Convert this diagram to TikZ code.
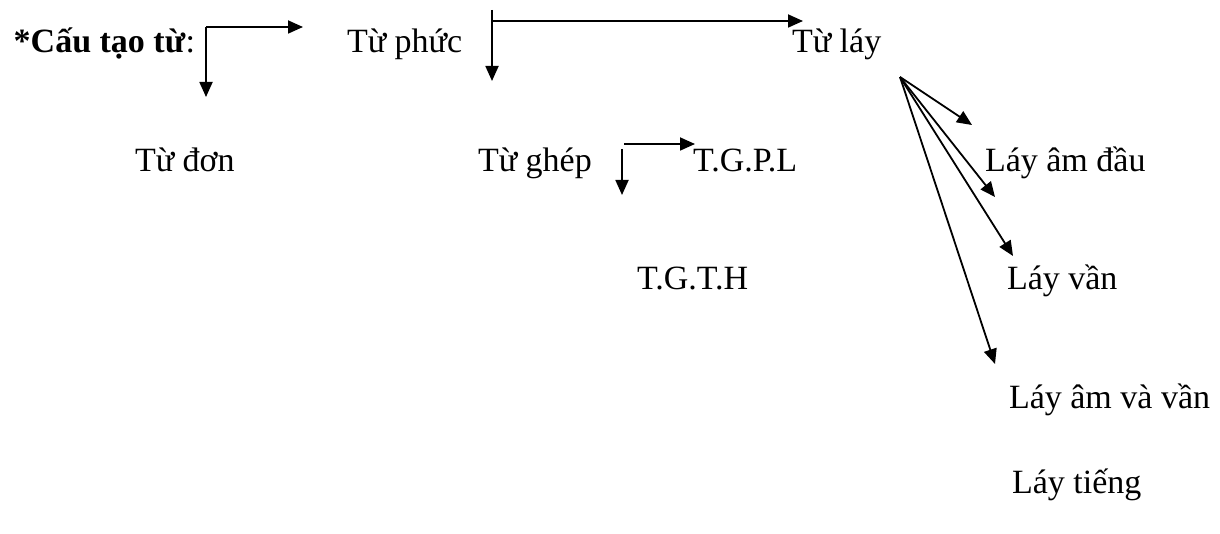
\documentclass[tikz,border=0pt]{standalone}
\usepackage{fontspec}
\setmainfont{Liberation Serif}
\usetikzlibrary{arrows.meta}
\tikzset{
  lbl/.style={anchor=base west, inner sep=0pt, outer sep=0pt, font=\fontsize{17}{20}\selectfont},
  link/.style={line width=0.9pt, -{Triangle[length=7.5pt,width=6.5pt]}},
  plain/.style={line width=0.9pt}
}
\begin{document}
\begin{tikzpicture}[x=0.5pt,y=-0.5pt]
\useasboundingbox (0,0) rectangle (1220,534);
% labels
\node[lbl, anchor=base east] (cautao) at (195,53) {\textbf{*Cấu tạo từ}:};
\node[lbl] (tuphuc) at (347,53) {Từ phức};
\node[lbl] (tulay) at (792,53) {Từ láy};
\node[lbl] (tudon) at (135,172) {Từ đơn};
\node[lbl] (tughep) at (478,172) {Từ ghép};
\node[lbl] (tgpl) at (693,172) {T.G.P.L};
\node[lbl] (tgth) at (637,290) {T.G.T.H};
\node[lbl] (amdau) at (985,172) {Láy âm đầu};
\node[lbl] (van) at (1007,290) {Láy vần};
\node[lbl] (amvan) at (1009,408) {Láy âm và vần};
\node[lbl] (tieng) at (1012,493) {Láy tiếng};
% first split
\coordinate (c1) at (206,27);
\coordinate (c1r) at (303,27);
\coordinate (c1d) at (206,97);
\draw[link] (c1) -- (c1r);
\draw[link] (c1) -- (c1d);
% second split
\coordinate (c2t) at (492,10);
\coordinate (c2) at (492,21);
\coordinate (c2r) at (803,21);
\coordinate (c2d) at (492,81);
\draw[link] (c2) -- (c2r);
\draw[link] (c2t) -- (c2d);
% compound words split
\coordinate (c3h) at (624,144);
\coordinate (c3r) at (695,144);
\coordinate (c3t) at (622,149);
\coordinate (c3d) at (622,195);
\draw[link] (c3h) -- (c3r);
\draw[link] (c3t) -- (c3d);
% reduplicative fan
\coordinate (fan) at (900,77);
\coordinate (f1) at (972,125);
\coordinate (f2) at (995,197);
\coordinate (f3) at (1013,256);
\coordinate (f4) at (995,364);
\foreach \t in {f1,f2,f3,f4} \draw[link] (fan) -- (\t);
\end{tikzpicture}
\end{document}
